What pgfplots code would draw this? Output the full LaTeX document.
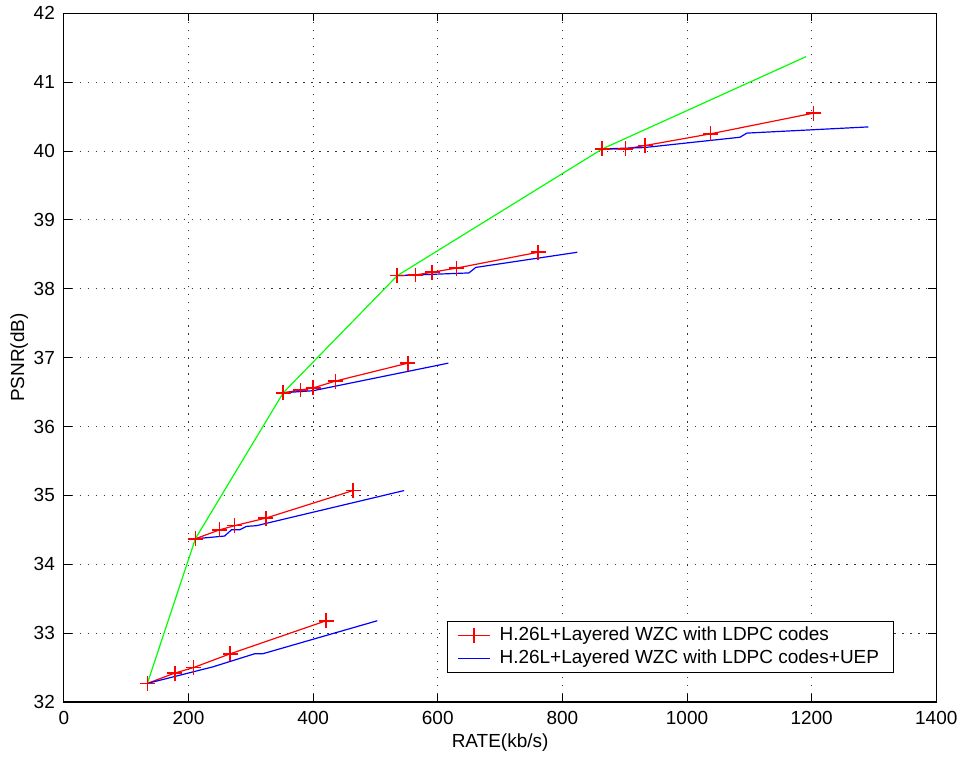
\documentclass[border=0pt]{standalone}
\usepackage{pgfplots}
\pgfplotsset{compat=1.18}
\usepackage{fontspec}
\setmainfont{Liberation Sans}
\definecolor{mred}{RGB}{255,0,0}
\definecolor{mblue}{RGB}{0,0,255}
\definecolor{mgreen}{RGB}{0,255,0}
\begin{document}
\begin{tikzpicture}
\begin{axis}[
  scale only axis,
  width=437pt, height=345pt,
  xmin=0, xmax=1400, ymin=32, ymax=42,
  xtick={0,200,...,1400}, ytick={32,33,...,42},
  tick align=inside,
  major tick length=4pt,
  xtick pos=both, ytick pos=both,
  grid=major,
  grid style={black!80, line width=0.5pt, dash pattern=on 0.6pt off 3.4pt},
  axis line style={black, line width=0.6pt},
  tick style={black, line width=0.5pt},
  font=\fontsize{9.5}{11}\selectfont,
  /pgf/number format/assume math mode=true,
  /pgf/number format/1000 sep={},
  xticklabel style={yshift=-1pt},
  yticklabel style={xshift=-1pt},
  xlabel={RATE(kb/s)},
  ylabel={PSNR(dB)},
  xlabel style={yshift=2pt},
  ylabel style={yshift=-4pt},
  redp/.style={color=mred, line width=0.6pt, mark=+, mark size=3.75pt, mark options={solid, color=mred, line width=0.8pt}},
  bluep/.style={color=mblue, line width=0.6pt},
  legend style={at={(0.951,0.042)}, anchor=south east, draw=black, line width=0.5pt,
    font=\fontsize{9.5}{11}\selectfont, row sep=-1pt, inner xsep=5pt, inner ysep=1pt},
  legend cell align=left,
  legend image code/.code={\draw[#1] (0pt,0pt) -- (16pt,0pt); \draw[#1, mark repeat=2, mark phase=2] plot coordinates {(0pt,0pt) (8pt,0pt) (16pt,0pt)};},
]
% red with markers
\addplot[redp] coordinates {(134,32.27) (178,32.42) (208,32.50) (267,32.70) (421,33.18)};
\addlegendentry{\hspace{2.5pt}H.26L+Layered WZC with LDPC codes}
\addplot[bluep] coordinates {(134,32.27) (239,32.51) (306,32.70) (319,32.70) (503,33.18)};
\addlegendentry{\hspace{2.5pt}H.26L+Layered WZC with LDPC codes+UEP}
\addplot[redp, forget plot] coordinates {(211,34.37) (250,34.50) (274,34.56) (324,34.67) (464,35.07)};
\addplot[redp, forget plot] coordinates {(352,36.49) (380,36.53) (400,36.56) (436,36.66) (552,36.92)};
\addplot[redp, forget plot] coordinates {(535,38.19) (564,38.20) (591,38.24) (630,38.30) (761,38.53)};
\addplot[redp, forget plot] coordinates {(864,40.03) (901,40.03) (933,40.08) (1038,40.25) (1203,40.55)};
% blue
\addplot[bluep, forget plot] coordinates {(211,34.37) (258,34.41) (269,34.50) (282,34.50) (293,34.55) (309,34.56) (546,35.07)};
\addplot[bluep, forget plot] coordinates {(352,36.49) (400,36.52) (617,36.92)};
\addplot[bluep, forget plot] coordinates {(535,38.19) (650,38.23) (661,38.31) (824,38.53)};
\addplot[bluep, forget plot] coordinates {(864,40.03) (931,40.05) (1085,40.20) (1096,40.26) (1291,40.35)};
% green envelope
\addplot[color=mgreen, line width=0.6pt, forget plot] coordinates {(134,32.27) (211,34.37) (352,36.49) (535,38.19) (864,40.03) (1191,41.37)};
\end{axis}
\path[use as bounding box] ([shift={(-32pt,-26.5pt)}]current axis.south west) rectangle ([shift={(13pt,6pt)}]current axis.north east);
\end{tikzpicture}
\end{document}
